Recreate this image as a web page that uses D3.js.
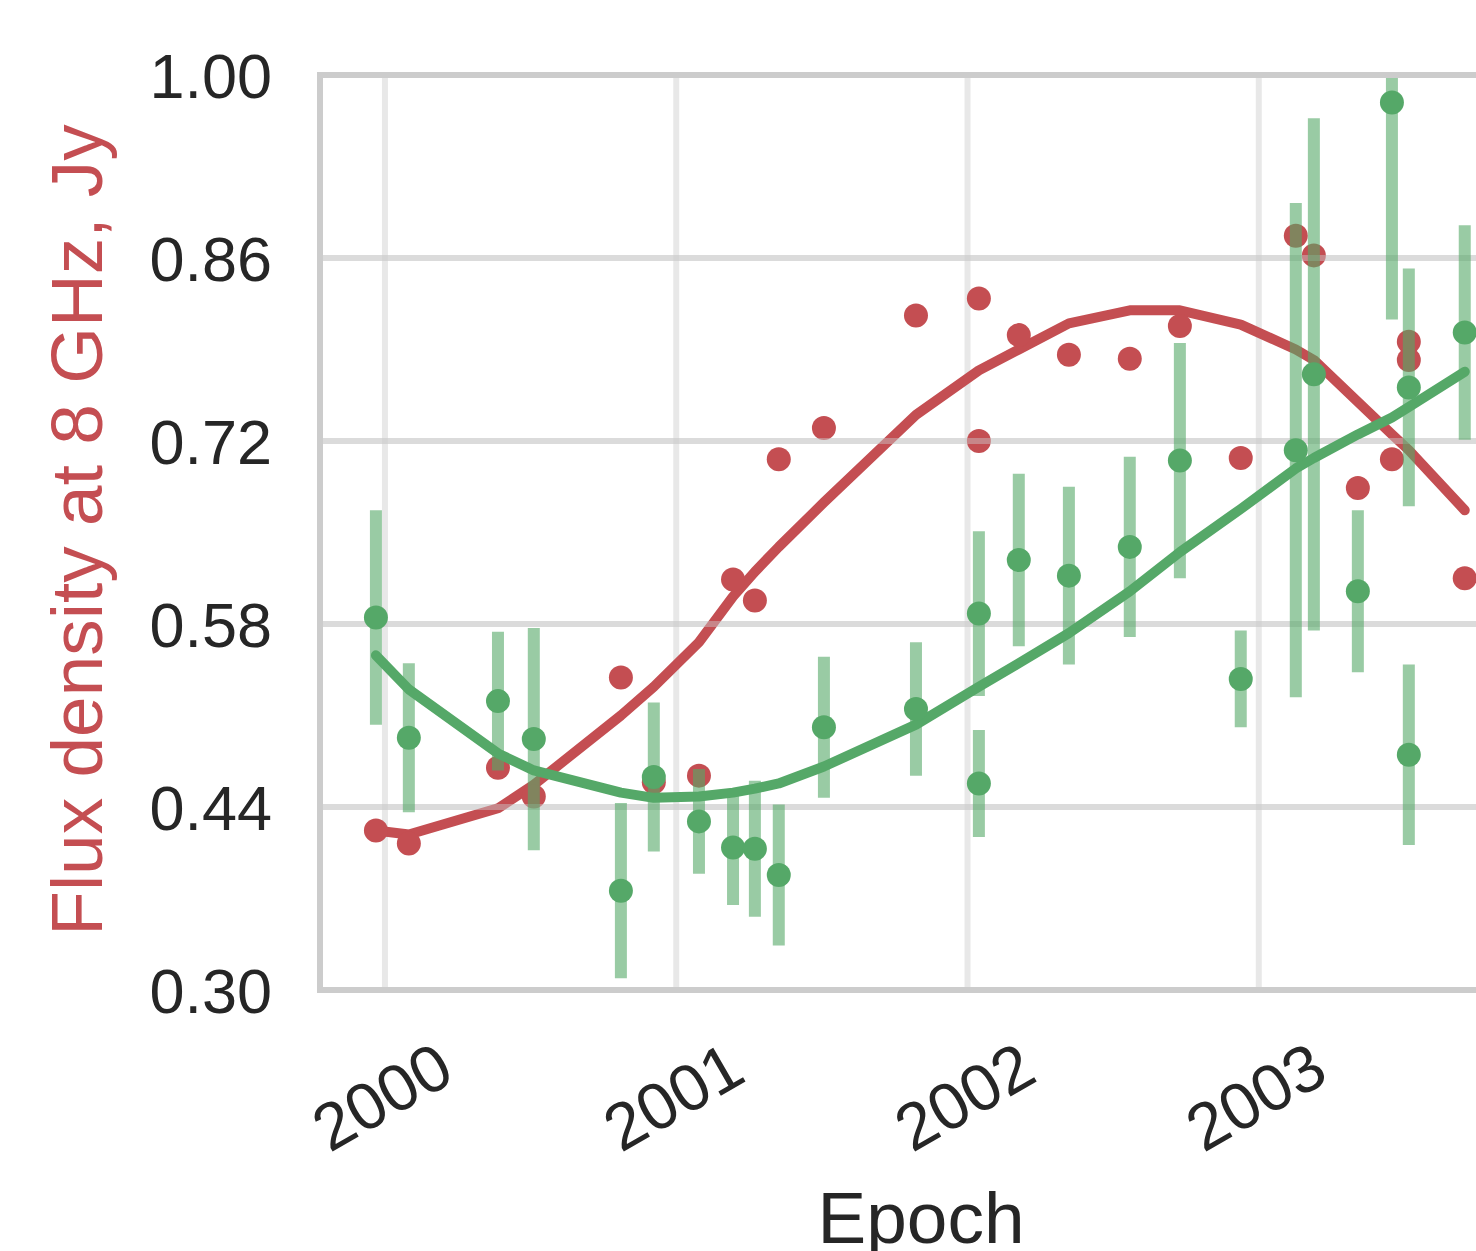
<!DOCTYPE html>
<html>
<head>
<meta charset="utf-8">
<script src="https://cdn.jsdelivr.net/npm/d3@7"></script>
<style>
  body { margin: 0; background: #fff; overflow: hidden; }
  text { font-family: "Liberation Sans", Arial, sans-serif; }
</style>
</head>
<body>
<svg id="chart" width="1476" height="1251"></svg>
<script>
// observation epochs (shared by both bands)
const epochs = [1999.969, 2000.082, 2000.388, 2000.511, 2000.810, 2000.923, 2001.078, 2001.195,
  2001.270, 2001.352, 2001.507, 2001.823, 2002.039, 2002.039, 2002.176, 2002.348, 2002.557,
  2002.729, 2002.938, 2003.127, 2003.189, 2003.340, 2003.457, 2003.515, 2003.515, 2003.707];
// 8 GHz flux, Jy
const redFlux = [0.422, 0.412, 0.470, 0.448, 0.539, 0.459, 0.464, 0.614,
  0.598, 0.706, 0.730, 0.816, 0.829, 0.720, 0.801, 0.786, 0.783,
  0.808, 0.707, 0.877, 0.862, 0.684, 0.706, 0.796, 0.782, 0.615];
// second band with errors
const greenFlux = [0.585, 0.493, 0.521, 0.492, 0.376, 0.463, 0.429, 0.409,
  0.408, 0.388, 0.501, 0.515, 0.588, 0.458, 0.629, 0.617, 0.639,
  0.705, 0.538, 0.713, 0.771, 0.605, 0.979, 0.761, 0.480, 0.803];
const greenErr = [0.082, 0.057, 0.053, 0.085, 0.067, 0.057, 0.040, 0.044,
  0.052, 0.054, 0.054, 0.051, 0.063, 0.041, 0.066, 0.068, 0.069,
  0.090, 0.037, 0.189, 0.196, 0.062, 0.166, 0.091, 0.069, 0.082];
// fitted curves at the unique epochs
const modelEpochs = [1999.969, 2000.082, 2000.388, 2000.511, 2000.810, 2000.923, 2001.078, 2001.195,
  2001.270, 2001.352, 2001.507, 2001.823, 2002.039, 2002.176, 2002.348, 2002.557,
  2002.729, 2002.938, 2003.127, 2003.189, 2003.340, 2003.457, 2003.515, 2003.707];
const redModel = [0.422, 0.419, 0.439, 0.457, 0.510, 0.532, 0.566, 0.601,
  0.620, 0.639, 0.673, 0.740, 0.774, 0.790, 0.810, 0.820,
  0.820, 0.809, 0.790, 0.782, 0.750, 0.725, 0.713, 0.667];
const greenModel = [0.556, 0.530, 0.481, 0.468, 0.451, 0.447, 0.448, 0.451,
  0.454, 0.458, 0.471, 0.503, 0.532, 0.550, 0.573, 0.605,
  0.635, 0.668, 0.699, 0.707, 0.725, 0.738, 0.746, 0.773];

const yTicks = [0.30, 0.44, 0.58, 0.72, 0.86, 1.00];
const xTicks = [2000, 2001, 2002, 2003];

const red = "#c44e52", green = "#55a868", ink = "#262626";
const gridColor = "#cccccc", gridAlpha = 0.45;

const svg = d3.select("#chart");
const box = { left: 320, top: 75, right: 1560, bottom: 990 };

const x = d3.scaleLinear().domain([1999.777, 2004.034]).range([box.left, box.right]);
const y = d3.scaleLinear().domain([0.30, 1.00]).range([box.bottom, box.top]);

svg.append("clipPath").attr("id", "plotclip")
  .append("rect")
  .attr("x", box.left).attr("y", box.top)
  .attr("width", box.right - box.left).attr("height", box.bottom - box.top);

function hGrid(g) {
  g.selectAll("line").data(yTicks).enter().append("line")
    .attr("x1", box.left).attr("x2", box.right)
    .attr("y1", d => y(d)).attr("y2", d => y(d))
    .attr("stroke", gridColor).attr("stroke-opacity", gridAlpha).attr("stroke-width", 6);
}

// first axes: grid under the red data
const base = svg.append("g");
base.selectAll(".vgrid").data(xTicks).enter().append("line")
  .attr("class", "vgrid")
  .attr("x1", d => x(d)).attr("x2", d => x(d))
  .attr("y1", box.top).attr("y2", box.bottom)
  .attr("stroke", gridColor).attr("stroke-opacity", gridAlpha).attr("stroke-width", 6);
hGrid(base.append("g"));

const redLayer = svg.append("g").attr("clip-path", "url(#plotclip)");
const redLine = d3.line().x((d, i) => x(modelEpochs[i])).y(d => y(d));
redLayer.append("path")
  .attr("d", redLine(redModel))
  .attr("fill", "none").attr("stroke", red).attr("stroke-width", 10)
  .attr("stroke-linejoin", "round").attr("stroke-linecap", "round");
redLayer.selectAll("circle").data(redFlux).enter().append("circle")
  .attr("cx", (d, i) => x(epochs[i])).attr("cy", d => y(d))
  .attr("r", 12).attr("fill", red);

// twin axes: its grid lies over the red layer
hGrid(svg.append("g"));

const greenLayer = svg.append("g").attr("clip-path", "url(#plotclip)");
greenLayer.selectAll(".err").data(greenFlux).enter().append("line")
  .attr("class", "err")
  .attr("x1", (d, i) => x(epochs[i])).attr("x2", (d, i) => x(epochs[i]))
  .attr("y1", (d, i) => y(d + greenErr[i])).attr("y2", (d, i) => y(d - greenErr[i]))
  .attr("stroke", green).attr("stroke-opacity", 0.6).attr("stroke-width", 12);
const greenLine = d3.line().x((d, i) => x(modelEpochs[i])).y(d => y(d));
greenLayer.append("path")
  .attr("d", greenLine(greenModel))
  .attr("fill", "none").attr("stroke", green).attr("stroke-width", 10)
  .attr("stroke-linejoin", "round").attr("stroke-linecap", "round");
greenLayer.selectAll("circle").data(greenFlux).enter().append("circle")
  .attr("cx", (d, i) => x(epochs[i])).attr("cy", d => y(d))
  .attr("r", 12).attr("fill", green);

// spines
svg.append("rect")
  .attr("x", box.left).attr("y", box.top)
  .attr("width", box.right - box.left).attr("height", box.bottom - box.top)
  .attr("fill", "none").attr("stroke", "#cccccc").attr("stroke-width", 6);

// y axis labels
const yAxis = svg.append("g")
  .attr("transform", `translate(${box.left},0)`)
  .call(d3.axisLeft(y).tickValues(yTicks).tickFormat(d3.format(".2f")).tickSize(0).tickPadding(48));
yAxis.select(".domain").remove();
yAxis.selectAll("text")
  .attr("dy", "0.36em")
  .attr("fill", ink).style("font-size", "63px");

// x axis labels, rotated
const xAxis = svg.append("g")
  .attr("transform", `translate(0,${box.bottom})`)
  .call(d3.axisBottom(x).tickValues(xTicks).tickFormat(d3.format("d")).tickSize(0));
xAxis.select(".domain").remove();
xAxis.selectAll("text")
  .attr("y", null)
  .attr("dy", "0.36em")
  .attr("text-anchor", "middle")
  .attr("transform", "translate(-4,106) rotate(-30)")
  .attr("fill", ink).style("font-size", "66px");

svg.append("text")
  .attr("x", 921).attr("y", 1243)
  .attr("text-anchor", "middle")
  .attr("fill", ink).style("font-size", "73px")
  .text("Epoch");

svg.append("text")
  .attr("transform", "translate(102,530) rotate(-90)")
  .attr("text-anchor", "middle")
  .attr("fill", red).style("font-size", "73px")
  .text("Flux density at 8 GHz, Jy");
</script>
</body>
</html>
